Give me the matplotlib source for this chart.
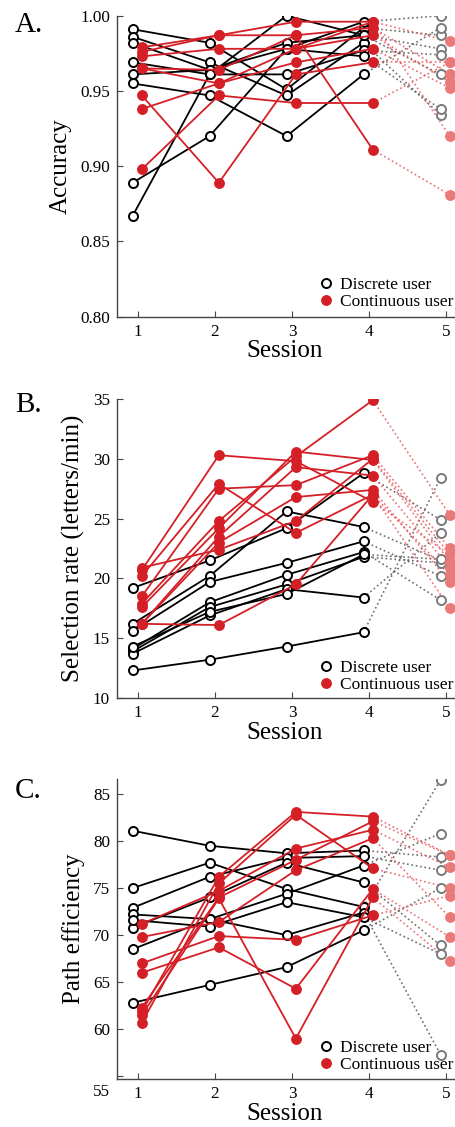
import numpy as np
import matplotlib
matplotlib.use('Agg')
import matplotlib.pyplot as plt
from matplotlib.lines import Line2D
from matplotlib.transforms import ScaledTranslation

plt.rcParams['font.family'] = ['Liberation Serif', 'DejaVu Serif']

sessions = [1, 2, 3, 4]

# ---- A. Accuracy ----
acc_discrete = [
    [0.991, 0.982, 0.951, 0.992],
    [0.986, 0.969, 0.947, 0.982],
    [0.982, 0.964, 0.982, 0.987],
    [0.969, 0.961, 0.961, 0.977],
    [0.961, 0.964, 0.978, 0.996],
    [0.955, 0.947, 0.920, 0.961],
    [0.889, 0.920, 0.978, 0.973],
    [0.867, 0.961, 1.000, 0.987],
]
acc_discrete_s5 = [0.987, 0.934, 0.978, 0.974, 1.000, 0.992, 0.938, 0.961]
acc_continuous = [
    [0.979, 0.987, 0.996, 0.996],
    [0.976, 0.987, 0.987, 0.992],
    [0.973, 0.978, 0.978, 0.987],
    [0.965, 0.964, 0.987, 0.911],
    [0.965, 0.955, 0.969, 0.978],
    [0.947, 0.889, 0.961, 0.969],
    [0.938, 0.955, 0.978, 0.996],
    [0.898, 0.947, 0.942, 0.942],
]
acc_continuous_s5 = [0.983, 0.961, 0.956, 0.881, 0.952, 0.969, 0.920, 0.969]

# ---- B. Selection rate ----
rate_discrete = [
    [19.2, 21.5, 24.2, 28.8],
    [16.2, 20.2, 25.6, 24.3],
    [15.6, 19.7, 21.3, 23.1],
    [14.1, 18.0, 20.3, 22.2],
    [13.9, 17.6, 19.5, 21.8],
    [13.7, 16.9, 19.1, 18.4],
    [12.3, 13.2, 14.3, 15.5],
    [14.3, 17.2, 18.7, 22.0],
]
rate_discrete_s5 = [24.9, 21.5, 20.2, 18.2, 21.3, 23.8, 28.4, 21.6]
rate_continuous = [
    [20.7, 30.3, 29.8, 26.4],
    [20.2, 27.9, 23.8, 27.0],
    [18.5, 27.5, 27.8, 30.3],
    [17.9, 24.8, 30.2, 34.9],
    [17.6, 24.2, 30.6, 29.9],
    [16.2, 23.5, 29.3, 28.6],
    [16.2, 23.0, 26.8, 27.4],
    [16.2, 16.1, 19.5, 27.0],
    [20.9, 22.4, 24.8, 30.0],
]
rate_continuous_s5 = [22.0, 20.3, 22.5, 25.3, 21.4, 20.9, 19.7, 17.5, 22.0]

# ---- C. Path efficiency ----
path_discrete = [
    [81.1, 79.5, 78.7, 79.0],
    [75.0, 77.7, 74.9, 73.0],
    [72.9, 76.2, 78.2, 78.4],
    [72.2, 71.7, 70.0, 72.4],
    [70.8, 74.0, 77.7, 75.6],
    [68.5, 71.7, 74.4, 77.4],
    [62.8, 64.7, 66.6, 70.5],
    [71.6, 70.9, 73.5, 71.9],
]
path_discrete_s5 = [78.3, 86.5, 76.9, 57.3, 68.9, 80.8, 75.0, 68.0]
path_continuous = [
    [71.2, 74.7, 79.2, 81.2],
    [69.8, 71.4, 76.9, 80.3],
    [67.0, 69.9, 69.5, 72.1],
    [66.0, 68.7, 64.3, 74.9],
    [61.9, 76.2, 83.1, 82.6],
    [60.7, 75.5, 82.8, 77.1],
    [61.5, 73.9, 59.0, 74.0],
    [62.3, 74.0, 78.0, 82.1],
]
path_continuous_s5 = [77.2, 71.9, 74.2, 69.8, 78.5, 75.0, 67.2, 78.5]

RED = '#d51f26'
RED5 = '#ea7a7a'
GREY5 = '#7a7a7a'
D_OFF, C_OFF = -0.07, 0.05

fig = plt.figure(figsize=(4.56, 11.27), dpi=100)


def panel(rect, disc, disc5, cont, cont5, ylim, yticks, ylabel, letter, fmt, leg_y):
    ax = fig.add_axes(rect)
    x = np.array(sessions)
    # dotted links to session 5
    for row, v5 in zip(disc, disc5):
        ax.plot([4 + D_OFF, 5 + D_OFF], [row[-1], v5], ':', color='#555555', lw=1.2, alpha=0.85, zorder=1)
    for row, v5 in zip(cont, cont5):
        ax.plot([4 + C_OFF, 5 + C_OFF], [row[-1], v5], ':', color='#e8585c', lw=1.2, alpha=0.85, zorder=1)
    ax.plot([5 + D_OFF] * len(disc5), disc5, 'o', ms=6.5, mfc='white', mec=GREY5, mew=1.4, zorder=2)
    ax.plot([5 + C_OFF] * len(cont5), cont5, 'o', ms=6.8, mfc=RED5, mec=RED5, zorder=2)
    for row in disc:
        ax.plot(x + D_OFF, row, '-o', color='black', lw=1.3, ms=6.5, mfc='white', mec='black', mew=1.4, zorder=3)
    for row in cont:
        ax.plot(x + C_OFF, row, '-o', color=RED, lw=1.3, ms=6.8, mfc=RED, mec=RED, zorder=4)

    ax.set_xlim(0.727, 5.3)
    ax.set_ylim(*ylim)
    ax.set_xticks([1, 2, 3, 4, 5])
    ax.set_yticks(yticks)
    ax.set_yticklabels([fmt.format(t) for t in yticks])
    for s in ['top', 'right']:
        ax.spines[s].set_visible(False)
    for s in ['left', 'bottom']:
        ax.spines[s].set_color('#444444')
        ax.spines[s].set_linewidth(1.0)
    ax.tick_params(direction='in', length=4, width=0.8, color='#444444', labelsize=12.3)
    ax.tick_params(axis='x', pad=5)
    ax.tick_params(axis='y', pad=5)
    ax.set_ylabel(ylabel, fontsize=18, labelpad=6)
    ax.set_xlabel('Session', fontsize=18, labelpad=0)
    ax.xaxis.set_label_coords(0.476, -0.079)
    fig.text(15 / 456, 1 - leg_y[0] / 1127, letter, fontsize=21, ha='left', va='baseline')

    handles = [
        Line2D([], [], ls='none', marker='o', ms=6.5, mfc='white', mec='black', mew=1.4),
        Line2D([], [], ls='none', marker='o', ms=6.8, mfc=RED, mec=RED),
    ]
    ax.legend(handles, ['Discrete user', 'Continuous user'], loc='lower left',
              bbox_to_anchor=(317 / 456, 1 - leg_y[1] / 1127), bbox_transform=fig.transFigure,
              frameon=False, fontsize=12.5, handlelength=1.0, handletextpad=0.35,
              labelspacing=0.05, borderpad=0, borderaxespad=0)
    return ax


W = 0.772
panel([117 / 456, 1 - 316.7 / 1127, W, 301 / 1127], acc_discrete, acc_discrete_s5,
      acc_continuous, acc_continuous_s5, (0.80, 1.00), [0.80, 0.85, 0.90, 0.95, 1.00],
      'Accuracy', 'A.', '{:.2f}', (32, 310))
panel([117 / 456, 1 - 698 / 1127, W, 299 / 1127], rate_discrete, rate_discrete_s5,
      rate_continuous, rate_continuous_s5, (10, 35), [10, 15, 20, 25, 30, 35],
      'Selection rate (letters/min)', 'B.', '{:.0f}', (412, 693))
axc = panel([117 / 456, 1 - 1079 / 1127, W, 300 / 1127], path_discrete, path_discrete_s5,
            path_continuous, path_continuous_s5, (54.7, 86.6), [55, 60, 65, 70, 75, 80, 85],
            'Path efficiency', 'C.', '{:.0f}', (798, 1073))
# the "55" label sits lower than its tick in the original
lab = axc.get_yticklabels()[0]
lab.set_transform(lab.get_transform() + ScaledTranslation(0, -10 / 72, fig.dpi_scale_trans))

fig.savefig('out.png', dpi=100)
